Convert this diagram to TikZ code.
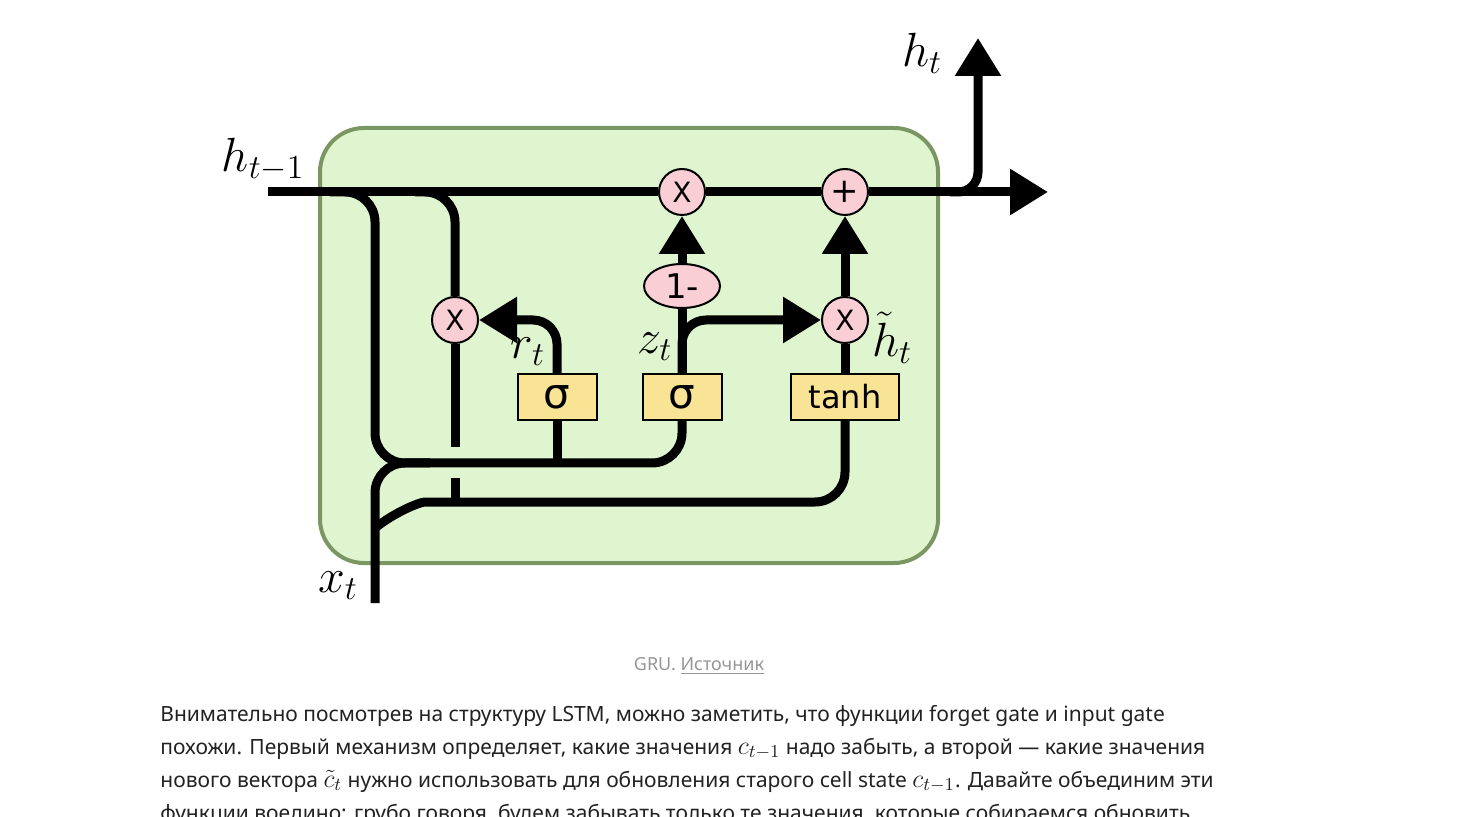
\RequirePackage{fix-cm}
\documentclass[tikz,border=0pt]{standalone}
\usepackage{fontspec}
\setmainfont{Noto Sans}
\newfontfamily\gatefont{DejaVu Sans}
\usetikzlibrary{arrows.meta,shapes.geometric}

\definecolor{cellfill}{RGB}{223,245,207}
\definecolor{celldraw}{RGB}{122,150,98}
\definecolor{opfill}{RGB}{249,206,212}
\definecolor{gatefill}{RGB}{248,228,148}
\definecolor{bodytext}{RGB}{34,34,34}
\definecolor{captext}{RGB}{150,150,150}

\newcommand\bodymath[1]{{\fontsize{13}{12}\selectfont$#1$}}

\tikzset{
    wire/.style={line width=4.5pt},
    bigtip/.style={-{Triangle[length=19pt,width=22pt]}},
    cellbox/.style={draw=celldraw,fill=cellfill,line width=2pt,rounded corners=22pt,
        minimum width=309pt,minimum height=217.5pt},
    opnode/.style={circle,draw,line width=1pt,fill=opfill,minimum size=23pt,inner sep=0pt,
        font=\gatefont\fontsize{14}{14}\selectfont},
    onenode/.style={ellipse,draw,line width=1pt,fill=opfill,minimum width=38pt,minimum height=22pt,
        inner sep=0pt,font=\gatefont\fontsize{17}{17}\selectfont},
    gatebox/.style={draw,line width=1pt,fill=gatefill,minimum width=39.5pt,minimum height=23pt,
        inner sep=0pt,font=\gatefont\fontsize{21}{21}\selectfont},
    mathlabel/.style={inner sep=0pt,font=\fontsize{24}{28}\selectfont},
    bodyline/.style={anchor=base west,inner sep=0pt,text=bodytext,font=\fontsize{10.5}{12}\selectfont},
}

\begin{document}
\begin{tikzpicture}[x=0.5pt,y=-0.5pt]
    \useasboundingbox (0,0) rectangle (1460,817);
    \clip (0,0) rectangle (1460,817);
    \def\mainy{192} % height of the h line
    \def\gatey{397} % height of the gate boxes

    % the cell
    \node[cellbox] (cell) at (629,345.5) {};

    % operations and gates
    \node[opnode] (mulz) at (682,\mainy) {X};
    \node[opnode,font=\gatefont\fontsize{17}{17}\selectfont] (addh) at (845,\mainy) {+};
    \node[onenode] (onem) at (682,286) {1-};
    \node[opnode] (mulr) at (455,320) {X};
    \node[opnode] (mulh) at (845,320) {X};
    \node[gatebox] (rsig) at (557,\gatey) {σ};
    \node[gatebox] (zsig) at (682,\gatey) {σ};
    \node[gatebox,minimum width=54pt,font=\gatefont\fontsize{16}{16}\selectfont] (tanhb) at (845,\gatey) {tanh};

    % labels
    \node[mathlabel] (hprev) at (263,160) {$h_{t-1}$};
    \node[mathlabel] (hnext) at (922,53) {$h_t$};
    \node[mathlabel] (xlab) at (338,586) {$x_t$};
    \node[mathlabel] (rlab) at (528,352) {$r_t$};
    \node[mathlabel] (zlab) at (655,347) {$z_t$};
    \node[mathlabel] (hcand) at (892,338) {$\tilde{h}_t$};

    \coordinate (hin) at (268,\mainy);
    \coordinate (hout) at (1048,\mainy);
    \coordinate (htop) at (978,38);
    \coordinate (xin) at (375,603);
    \coordinate (gapA) at (455,447);
    \coordinate (gapB) at (455,478);
    \coordinate (jointB) at (455,502);

    % h line
    \draw[wire] (hin) -- (mulz);
    \draw[wire] (mulz) -- (addh);
    \draw[wire,bigtip] (addh) -- (hout);
    \draw[wire,bigtip,rounded corners=10pt] (950,\mainy) -| (htop);

    % into the gates
    \draw[wire,rounded corners=15pt] (330,\mainy) -| (375,463) -| (zsig.south);
    \draw[wire] (rsig.south) -- ++(0,43);
    \draw[wire,rounded corners=15pt] (415,\mainy) -| (mulr.north);
    \draw[wire] (mulr.south) -- (gapA);
    \draw[wire] (gapB) -- (jointB);
    \draw[wire,rounded corners=15pt] (tanhb.south) |- (jointB) .. controls (420,502) and (395,512) .. (375,528);
    \draw[wire,rounded corners=15pt] (xin) |- (430,463);

    % out of the gates
    \draw[wire,bigtip,rounded corners=12pt] (rsig.north) |- (mulr.east);
    \draw[wire] (zsig) -- (onem);
    \draw[wire,bigtip] (onem) -- (mulz);
    \draw[wire,bigtip,rounded corners=12pt] (zsig.north) |- (mulh.west);
    \draw[wire] (tanhb) -- (mulh);
    \draw[wire,bigtip] (mulh) -- (addh);

    % caption and text
    \node[text=captext,font=\fontsize{9}{11}\selectfont] (cap) at (699,666) {GRU. \underline{Источник}};
    \node[bodyline] (line1) at (160,721) {Внимательно посмотрев на структуру LSTM, можно заметить, что функции forget gate и input gate};
    \node[bodyline] (line2) at (160,754) {похожи. Первый механизм определяет, какие значения \bodymath{c_{t-1}} надо забыть, а второй — какие значения};
    \node[bodyline] (line3) at (160,787) {нового вектора \bodymath{\tilde{c}_t} нужно использовать для обновления старого cell state \bodymath{c_{t-1}}. Давайте объединим эти};
    \node[bodyline] (line4) at (160,820) {функции воедино: грубо говоря, будем забывать только те значения, которые собираемся обновить};
\end{tikzpicture}
\end{document}
